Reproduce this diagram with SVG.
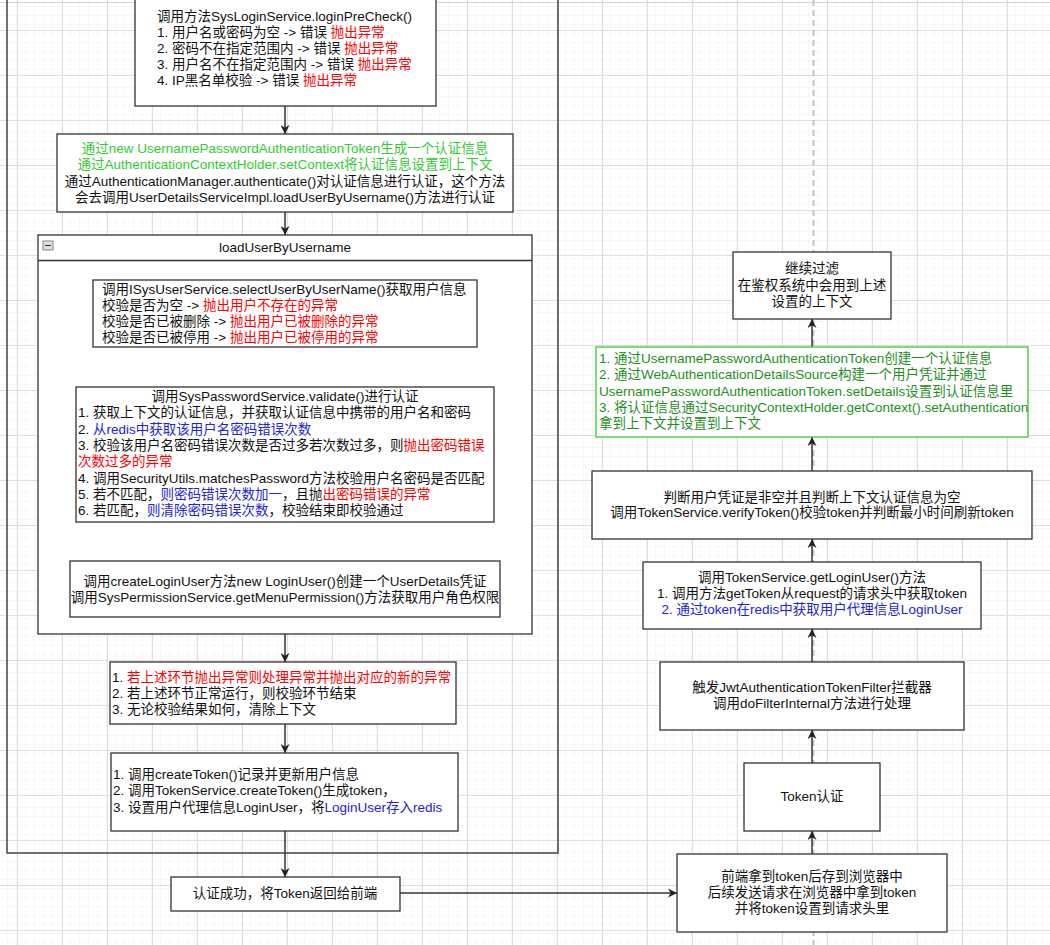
<svg xmlns="http://www.w3.org/2000/svg" width="1050" height="945" viewBox="0 0 1050 945">
<defs>
<pattern id="minor" x="17" y="30" width="9" height="9" patternUnits="userSpaceOnUse">
<path d="M0,0 H9 M0,0 V9" fill="none" stroke="#f0f0f0" stroke-width="1"/>
</pattern>
<pattern id="major" x="17" y="30" width="45" height="45" patternUnits="userSpaceOnUse">
<rect width="45" height="45" fill="url(#minor)"/>
<path d="M0,0.5 H45 M0.5,0 V45" fill="none" stroke="#dedede" stroke-width="1"/>
</pattern>
<marker id="arr" viewBox="0 0 10 10" refX="10" refY="5" markerWidth="9" markerHeight="9" markerUnits="userSpaceOnUse" orient="auto">
<path d="M0,0 L10,5 L0,10 L3,5 Z" fill="#222"/>
</marker>
</defs>
<style>
text{font-family:"Liberation Sans","Noto Sans CJK SC",sans-serif;font-size:13.5px;fill:#111}
.c{text-anchor:middle}
.box{fill:#fff;stroke:#333;stroke-width:1.3}
.gbox{fill:#fff;stroke:#33cc33;stroke-width:1.3}
.edge{fill:none;stroke:#333;stroke-width:1.5;marker-end:url(#arr)}
.r{fill:#ff0000}
.b{fill:#2222dd}
.g{fill:#33cc33}
.dg{fill:#1f8f1f}
</style>
<rect width="1050" height="945" fill="#fff"/>
<rect width="1050" height="945" fill="url(#major)"/>
<line x1="0" y1="2.5" x2="1050" y2="2.5" stroke="#d8d8d8" stroke-width="1"/>
<line x1="813.5" y1="0" x2="813.5" y2="945" stroke="#c4c4c4" stroke-width="2" stroke-dasharray="6 4"/>

<g id="outer-container">
<path d="M7,-5 V853 H558 V-5" fill="none" stroke="#444" stroke-width="1.5"/>
</g>

<g id="connectors">
<line class="edge" x1="285" y1="106" x2="285" y2="134"/>
<line class="edge" x1="285" y1="212" x2="285" y2="235"/>
<line class="edge" x1="285" y1="347" x2="285" y2="387"/>
<line class="edge" x1="285" y1="522" x2="285" y2="561"/>
<line class="edge" x1="285" y1="634" x2="285" y2="662"/>
<line class="edge" x1="285" y1="724" x2="285" y2="753"/>
<line class="edge" x1="285" y1="831" x2="285" y2="877"/>
<line class="edge" x1="400" y1="893" x2="677" y2="893"/>
<line class="edge" x1="812" y1="854" x2="812" y2="831"/>
<line class="edge" x1="812" y1="763" x2="812" y2="730"/>
<line class="edge" x1="812" y1="662" x2="812" y2="629"/>
<line class="edge" x1="812" y1="562" x2="812" y2="539"/>
<line class="edge" x1="812" y1="471" x2="812" y2="437"/>
<line class="edge" x1="812" y1="347" x2="812" y2="319"/>
</g>

<g id="precheck">
<rect class="box" x="135" y="-4" width="301" height="110"/>
<text x="157" y="21">调用方法SysLoginService.loginPreCheck()</text>
<text x="157" y="37">1. 用户名或密码为空 -&gt; 错误 <tspan class="r">抛出异常</tspan></text>
<text x="157" y="53">2. 密码不在指定范围内 -&gt; 错误 <tspan class="r">抛出异常</tspan></text>
<text x="157" y="69">3. 用户名不在指定范围内 -&gt; 错误 <tspan class="r">抛出异常</tspan></text>
<text x="157" y="85">4. IP黑名单校验 -&gt; 错误 <tspan class="r">抛出异常</tspan></text>
</g>

<g id="auth-token">
<rect class="box" x="57" y="134" width="456" height="78"/>
<text class="c g" x="285" y="152.5">通过new UsernamePasswordAuthenticationToken生成一个认证信息</text>
<text class="c g" x="285" y="168.5">通过AuthenticationContextHolder.setContext将认证信息设置到上下文</text>
<text class="c" x="285" y="185.5">通过AuthenticationManager.authenticate()对认证信息进行认证，这个方法</text>
<text class="c" x="285" y="201.5">会去调用UserDetailsServiceImpl.loadUserByUsername()方法进行认证</text>
</g>

<g id="loadUserByUsername">
<rect class="box" x="38" y="235" width="494" height="399"/>
<line x1="38" y1="260.5" x2="532" y2="260.5" stroke="#333" stroke-width="1.3"/>
<rect x="43" y="241" width="10" height="9" fill="#e0e0e0" stroke="#888" stroke-width="1"/>
<line x1="45" y1="245.5" x2="51" y2="245.5" stroke="#333" stroke-width="1"/>
<text class="c" x="285" y="251.5">loadUserByUsername</text>
</g>

<g id="select-user">
<rect class="box" x="93" y="280" width="384" height="67"/>
<text x="102" y="293.5">调用ISysUserService.selectUserByUserName()获取用户信息</text>
<text x="102" y="309.5">校验是否为空 -&gt; <tspan class="r">抛出用户不存在的异常</tspan></text>
<text x="102" y="325.5">校验是否已被删除 -&gt; <tspan class="r">抛出用户已被删除的异常</tspan></text>
<text x="102" y="341.5">校验是否已被停用 -&gt; <tspan class="r">抛出用户已被停用的异常</tspan></text>
</g>

<g id="password-validate">
<rect class="box" x="76" y="387" width="418" height="135"/>
<text class="c" x="285" y="400.5">调用SysPasswordService.validate()进行认证</text>
<text x="78" y="417">1. 获取上下文的认证信息，并获取认证信息中携带的用户名和密码</text>
<text x="78" y="433.5">2. <tspan class="b">从redis中获取该用户名密码错误次数</tspan></text>
<text x="78" y="449.5">3. 校验该用户名密码错误次数是否过多若次数过多，则<tspan class="r">抛出密码错误</tspan></text>
<text x="78" y="465.5" class="r">次数过多的异常</text>
<text x="78" y="482.5">4. 调用SecurityUtils.matchesPassword方法校验用户名密码是否匹配</text>
<text x="78" y="498.5">5. 若不匹配，<tspan class="b">则密码错误次数加一</tspan>，且抛<tspan class="r">出密码错误的异常</tspan></text>
<text x="78" y="514.5">6. 若匹配，<tspan class="b">则清除密码错误次数</tspan>，校验结束即校验通过</text>
</g>

<g id="create-login-user">
<rect class="box" x="70" y="561" width="430" height="56"/>
<text class="c" x="285" y="585.5">调用createLoginUser方法new LoginUser()创建一个UserDetails凭证</text>
<text class="c" x="285" y="601.5">调用SysPermissionService.getMenuPermission()方法获取用户角色权限</text>
</g>

<g id="exception-handle">
<rect class="box" x="110" y="662" width="346" height="62"/>
<text x="112" y="681.5">1. <tspan class="r">若上述环节抛出异常则处理异常并抛出对应的新的异常</tspan></text>
<text x="112" y="697.5">2. 若上述环节正常运行，则校验环节结束</text>
<text x="112" y="713.5">3. 无论校验结果如何，清除上下文</text>
</g>

<g id="create-token">
<rect class="box" x="111" y="753" width="347" height="78"/>
<text x="113" y="778.5">1. 调用createToken()记录并更新用户信息</text>
<text x="113" y="795">2. 调用TokenService.createToken()生成token，</text>
<text x="113" y="811.5">3. 设置用户代理信息LoginUser，将<tspan class="b">LoginUser存入redis</tspan></text>
</g>

<g id="auth-success">
<rect class="box" x="171" y="877" width="229" height="34"/>
<text class="c" x="285" y="897.5">认证成功，将Token返回给前端</text>
</g>

<g id="frontend-store">
<rect class="box" x="677" y="854" width="270" height="78"/>
<text class="c" x="812" y="880.5">前端拿到token后存到浏览器中</text>
<text class="c" x="812" y="896.5">后续发送请求在浏览器中拿到token</text>
<text class="c" x="812" y="912.5">并将token设置到请求头里</text>
</g>

<g id="token-auth">
<rect class="box" x="744" y="763" width="136" height="68"/>
<text class="c" x="812" y="800.5">Token认证</text>
</g>

<g id="jwt-filter">
<rect class="box" x="660" y="662" width="304" height="68"/>
<text class="c" x="812" y="691.5">触发JwtAuthenticationTokenFilter拦截器</text>
<text class="c" x="812" y="707.5">调用doFilterInternal方法进行处理</text>
</g>

<g id="get-login-user">
<rect class="box" x="643" y="562" width="338" height="67"/>
<text class="c" x="812" y="581.5">调用TokenService.getLoginUser()方法</text>
<text class="c" x="812" y="597.5">1. 调用方法getToken从request的请求头中获取token</text>
<text class="c b" x="812" y="614">2. 通过token在redis中获取用户代理信息LoginUser</text>
</g>

<g id="verify-token">
<rect class="box" x="592" y="471" width="440" height="68"/>
<text class="c" x="812" y="501.5">判断用户凭证是非空并且判断上下文认证信息为空</text>
<text class="c" x="812" y="516.5">调用TokenService.verifyToken()校验token并判断最小时间刷新token</text>
</g>

<g id="set-context">
<rect class="gbox" x="596" y="347" width="432" height="90"/>
<text class="dg" x="599" y="362.5">1. 通过UsernamePasswordAuthenticationToken创建一个认证信息</text>
<text class="dg" x="599" y="379">2. 通过WebAuthenticationDetailsSource构建一个用户凭证并通过</text>
<text class="dg" x="599" y="395.5">UsernamePasswordAuthenticationToken.setDetails设置到认证信息里</text>
<text class="dg" x="599" y="411.5">3. 将认证信息通过SecurityContextHolder.getContext().setAuthentication</text>
<text class="dg" x="599" y="427.5">拿到上下文并设置到上下文</text>
</g>

<g id="continue-filter">
<rect class="box" x="733" y="252" width="158" height="67"/>
<text class="c" x="812" y="272.5">继续过滤</text>
<text class="c" x="812" y="289.5">在鉴权系统中会用到上述</text>
<text class="c" x="812" y="305.5">设置的上下文</text>
</g>
</svg>
